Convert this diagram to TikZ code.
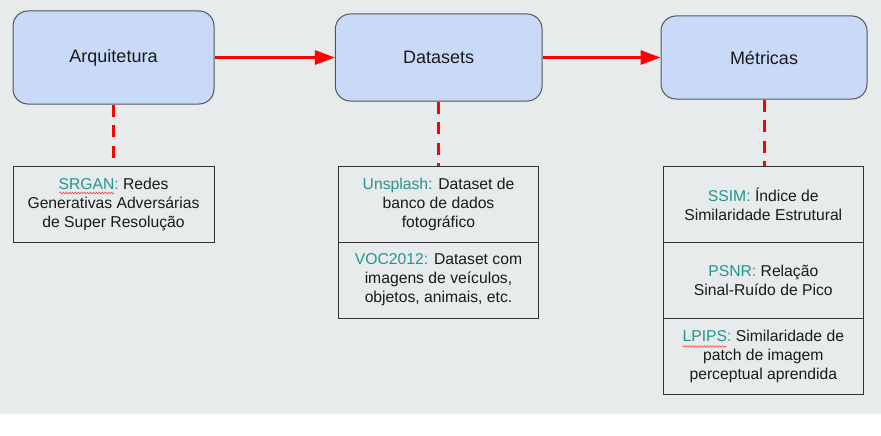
\documentclass[tikz,border=0pt]{standalone}
\usepackage{fontspec}
\setmainfont{Liberation Sans}
\usetikzlibrary{arrows.meta,decorations.pathmorphing}
\definecolor{bggray}{HTML}{E8EBEC}
\definecolor{boxblue}{HTML}{C9DAF8}
\definecolor{boxborder}{HTML}{555555}
\definecolor{subborder}{HTML}{333333}
\definecolor{tealtxt}{RGB}{34,150,140}
\definecolor{txtblack}{HTML}{1A1A1A}
\definecolor{redline}{HTML}{FF0000}
\tikzset{
  titlebox/.style={draw=boxborder, line width=1pt, fill=boxblue, rounded corners=15pt,
    font=\fontsize{18}{22}\selectfont, text=txtblack, inner sep=0pt},
  subbox/.style={draw=subborder, line width=1pt, minimum height=76pt, inner sep=0pt,
    align=center, font=\fontsize{15.7}{19}\selectfont, text=txtblack},
  flowarrow/.style={draw=redline, line width=3pt, -{Triangle[length=20pt,width=14pt]}},
  linkline/.style={draw=redline, line width=3pt, dash pattern=on 12pt off 8.5pt},
  spellmark/.style={draw=red!75, line width=0.6pt, decorate,
    decoration={snake, segment length=3pt, amplitude=0.8pt}}
}
\newcommand{\tl}[1]{\textcolor{tealtxt}{#1}}
\begin{document}
\begin{tikzpicture}[x=1pt,y=-1pt]
  \useasboundingbox (0,0) rectangle (881,436);
  \fill[bggray] (0,0) rectangle (881,413.5);

  % title boxes
  \node[titlebox, minimum width=201pt, minimum height=93pt] (arq) at (113.5,57.5) {Arquitetura};
  \node[titlebox, minimum width=206.7pt, minimum height=87pt] (ds) at (438.7,57.5) {Datasets};
  \node[titlebox, minimum width=206pt, minimum height=83pt] (met) at (764,57.5) {Métricas};

  % detail boxes
  \node[subbox, minimum width=201pt] (srgan) at (113.5,204) {\tl{SRGAN:} Redes\\Generativas Adversárias\\de Super Resolução};

  \node[subbox, minimum width=200.4pt] (unsp) at (438.5,204) {\tl{Unsplash:} Dataset de\\banco de dados\\fotográfico};
  \node[subbox, minimum width=200.4pt] (voc) at (438.5,280) {\tl{VOC2012:} Dataset com\\imagens de veículos,\\objetos, animais, etc.};

  \node[subbox, minimum width=200pt] (ssim) at (763.3,204) {\tl{SSIM:} Índice de\\Similaridade Estrutural};
  \node[subbox, minimum width=200pt] (psnr) at (763.3,280) {\tl{PSNR:} Relação\\Sinal-Ruído de Pico};
  \node[subbox, minimum width=200pt] (lpips) at (763.3,356) {\tl{LPIPS:} Similaridade de\\patch de imagem\\perceptual aprendida};

  % connectors
  \draw[flowarrow] (arq) -- (ds);
  \draw[flowarrow] (ds) -- (met);
  \draw[linkline] (arq.south) -- (arq.south |- srgan.north);
  \draw[linkline] (ds.south) -- (ds.south |- unsp.north);
  \draw[linkline] (met.south) -- (met.south |- ssim.north);

  % spell-check underlines
  \draw[spellmark] (59.5,193) -- (114,193);
  \draw[spellmark] (682.5,346.5) -- (726,346.5);
\end{tikzpicture}
\end{document}
